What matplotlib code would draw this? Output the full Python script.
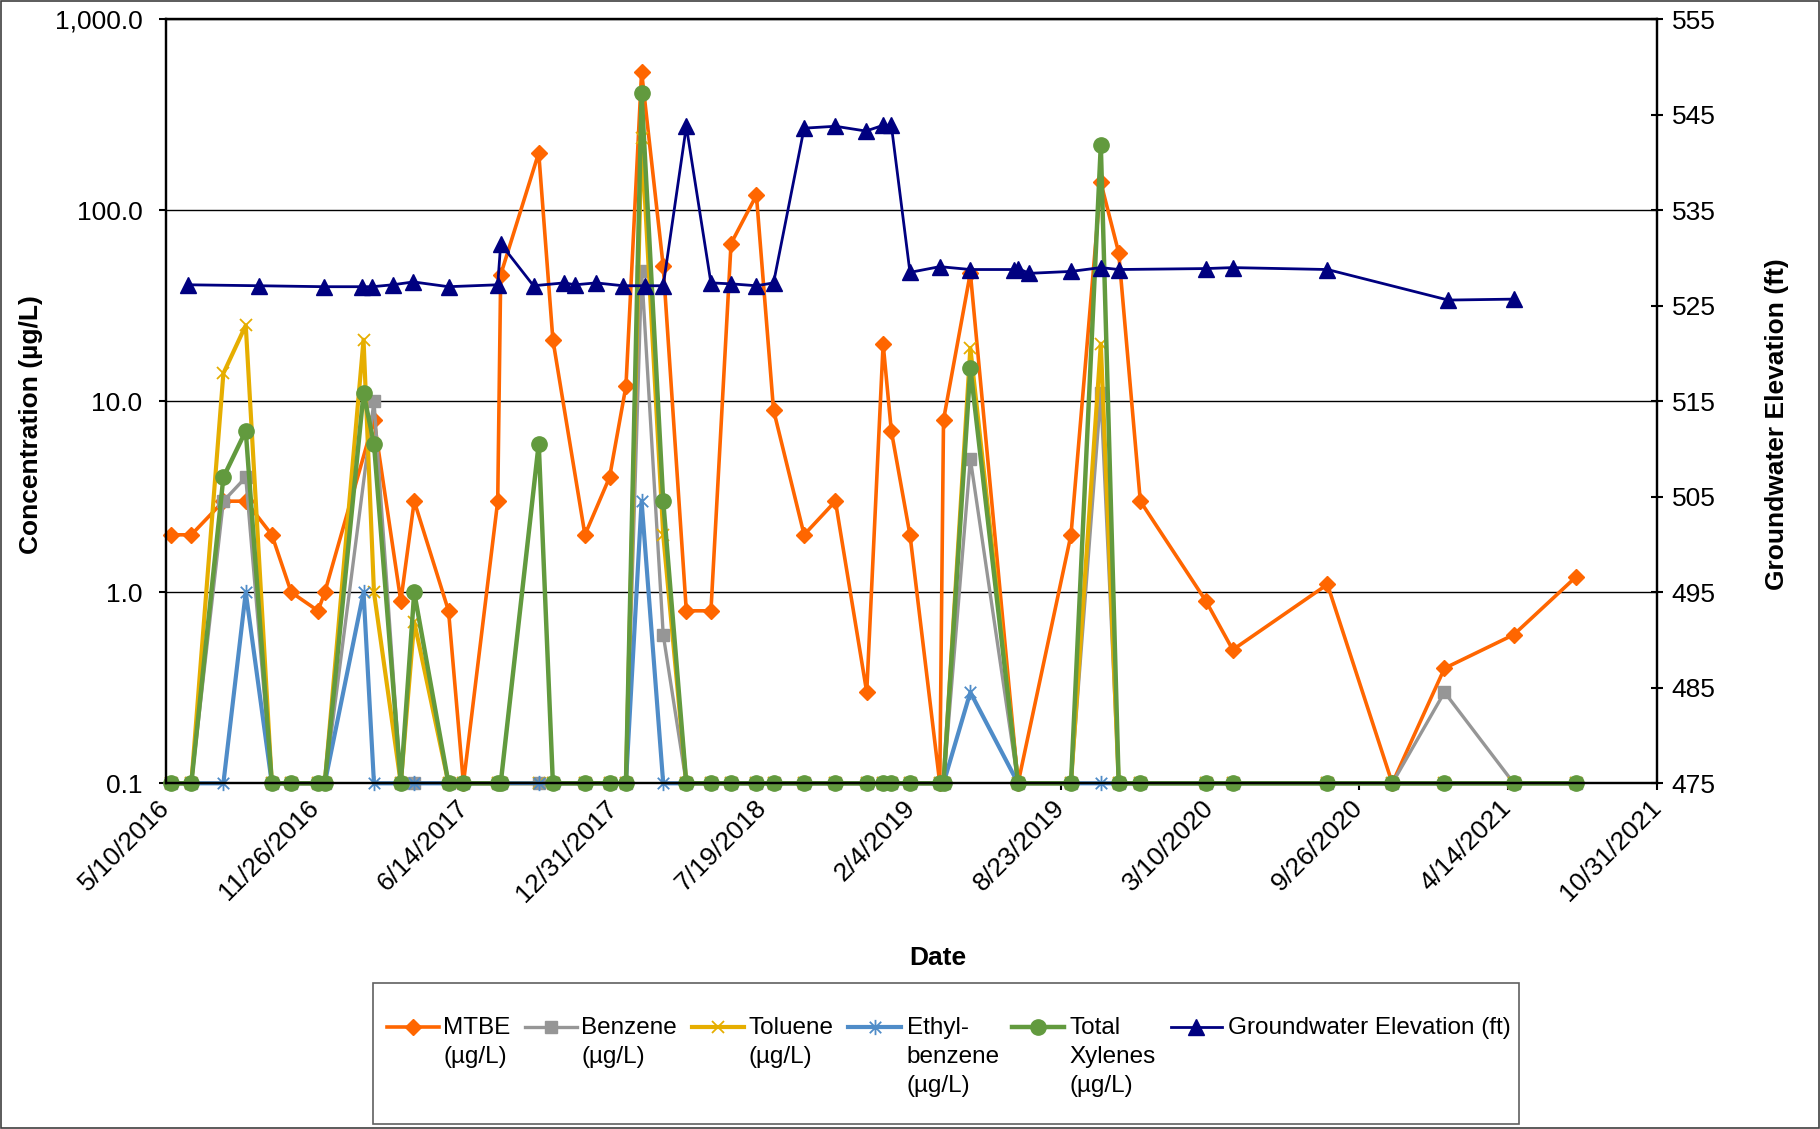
import datetime as dt
import numpy as np
import matplotlib
matplotlib.use("Agg")
import matplotlib.pyplot as plt
import matplotlib.dates as mdates
from matplotlib.lines import Line2D
from matplotlib.patches import Rectangle
from matplotlib.path import Path
from matplotlib.ticker import FixedLocator, FuncFormatter, NullLocator

plt.rcParams['font.family'] = ['Liberation Sans', 'DejaVu Sans']

nan = np.nan  # no result reported for that sampling event

# sampling events (non-detects plotted at 0.1 ug/L)
sample_dates = ['2016-05-17', '2016-06-13', '2016-07-26', '2016-08-25', '2016-09-29',
                '2016-10-25', '2016-11-30', '2016-12-09', '2017-01-30', '2017-02-13',
                '2017-03-21', '2017-04-08', '2017-05-24', '2017-06-13', '2017-07-29',
                '2017-08-02', '2017-09-22', '2017-10-11', '2017-11-23', '2017-12-26',
                '2018-01-17', '2018-02-07', '2018-03-08', '2018-04-08', '2018-05-11',
                '2018-06-07', '2018-07-11', '2018-08-03', '2018-09-13', '2018-10-25',
                '2018-12-06', '2018-12-28', '2019-01-08', '2019-02-02', '2019-03-14',
                '2019-03-19', '2019-04-24', '2019-06-27', '2019-09-06', '2019-10-16',
                '2019-11-09', '2019-12-08', '2020-03-05', '2020-04-10', '2020-08-15',
                '2020-11-10', '2021-01-19', '2021-04-22', '2021-07-14']
mtbe = [2.0, 2.0, 3.0, 3.0, 2.0, 1.0, 0.8, 1.0, nan, 8.0,
        0.9, 3.0, 0.8, 0.1, 3.0, 46, 200, 21, 2.0, 4.0,
        12, 530, 51, 0.8, 0.8, 67, 120, 9.0, 2.0, 3.0,
        0.3, 20, 7.0, 2.0, 0.1, 8.0, 47, 0.1, 2.0, 140,
        60, 3.0, 0.9, 0.5, 1.1, 0.1, 0.4, 0.6, 1.2]
benzene = [0.1, 0.1, 3.0, 4.0, 0.1, 0.1, 0.1, 0.1, nan, 10,
           0.1, 0.1, 0.1, 0.1, 0.1, 0.1, 0.1, 0.1, 0.1, 0.1,
           0.1, 48, 0.6, 0.1, 0.1, 0.1, 0.1, 0.1, 0.1, 0.1,
           0.1, 0.1, 0.1, 0.1, 0.1, 0.1, 5.0, 0.1, 0.1, 11,
           0.1, 0.1, 0.1, 0.1, 0.1, 0.1, 0.3, 0.1, 0.1]
toluene = [0.1, 0.1, 14, 25, 0.1, 0.1, 0.1, 0.1, 21, 1.0,
           0.1, 0.7, 0.1, 0.1, 0.1, 0.1, 0.1, 0.1, 0.1, 0.1,
           0.1, 240, 2.0, 0.1, 0.1, 0.1, 0.1, 0.1, 0.1, 0.1,
           0.1, 0.1, 0.1, 0.1, 0.1, 0.1, 19, 0.1, 0.1, 20,
           0.1, 0.1, 0.1, 0.1, 0.1, 0.1, 0.1, 0.1, 0.1]
ethylbenzene = [0.1, 0.1, 0.1, 1.0, 0.1, 0.1, 0.1, 0.1, 1.0, 0.1,
                0.1, 0.1, 0.1, 0.1, 0.1, 0.1, 0.1, 0.1, 0.1, 0.1,
                0.1, 3.0, 0.1, 0.1, 0.1, 0.1, 0.1, 0.1, 0.1, 0.1,
                0.1, 0.1, 0.1, 0.1, 0.1, 0.1, 0.3, 0.1, 0.1, 0.1,
                0.1, 0.1, 0.1, 0.1, 0.1, 0.1, 0.1, 0.1, 0.1]
xylenes = [0.1, 0.1, 4.0, 7.0, 0.1, 0.1, 0.1, 0.1, 11, 6.0,
           0.1, 1.0, 0.1, 0.1, 0.1, 0.1, 6.0, 0.1, 0.1, 0.1,
           0.1, 410, 3.0, 0.1, 0.1, 0.1, 0.1, 0.1, 0.1, 0.1,
           0.1, 0.1, 0.1, 0.1, 0.1, 0.1, 15, 0.1, 0.1, 220,
           0.1, 0.1, 0.1, 0.1, 0.1, 0.1, 0.1, 0.1, 0.1]

# groundwater gauging
gw_dates = ['2016-06-09', '2016-09-12', '2016-12-08', '2017-01-28', '2017-02-11',
            '2017-03-10', '2017-04-07', '2017-05-24', '2017-07-29', '2017-08-02',
            '2017-09-15', '2017-10-26', '2017-11-10', '2017-12-08', '2018-01-13',
            '2018-02-11', '2018-03-08', '2018-04-08', '2018-05-11', '2018-06-07',
            '2018-07-11', '2018-08-03', '2018-09-13', '2018-10-25', '2018-12-05',
            '2018-12-28', '2019-01-08', '2019-02-02', '2019-03-14', '2019-04-24',
            '2019-06-22', '2019-06-27', '2019-07-12', '2019-09-06', '2019-10-16',
            '2019-11-09', '2020-03-05', '2020-04-10', '2020-08-15', '2021-01-24',
            '2021-04-22']
gw_elev = [527.2, 527.1, 527.0, 527.0, 527.0, 527.2, 527.5, 527.0, 527.2, 531.5,
           527.1, 527.4, 527.2, 527.4, 527.1, 527.1, 527.1, 543.8, 527.4, 527.3,
           527.1, 527.4, 543.6, 543.8, 543.3, 543.9, 543.9, 528.5, 529.1, 528.8,
           528.8, 528.9, 528.4, 528.6, 529.0, 528.8, 528.9, 529.0, 528.8, 525.6,
           525.7]

series_names = ['MTBE\n(µg/L)', 'Benzene\n(µg/L)', 'Toluene\n(µg/L)',
                'Ethyl-\nbenzene\n(µg/L)', 'Total\nXylenes\n(µg/L)']
gw_name = 'Groundwater Elevation (ft)'

# excel style asterisk: an "x" with a vertical bar
star = Path([(0, 1), (0, -1), (-0.75, 0.75), (0.75, -0.75), (-0.75, -0.75), (0.75, 0.75)],
            [Path.MOVETO, Path.LINETO, Path.MOVETO, Path.LINETO, Path.MOVETO, Path.LINETO])

styles = [
    dict(color='#FF6600', marker='D', ms=8, lw=2.6),
    dict(color='#969696', marker='s', ms=9, lw=2.4),
    dict(color='#E6AE00', marker='x', ms=9, mew=1.3, lw=3.0),
    dict(color='#4F8CC8', marker=star, ms=11, mew=1.3, lw=3.0),
    dict(color='#629A3E', marker='o', ms=11, lw=3.2),
]
gw_style = dict(color='#000080', marker='^', ms=11, lw=2.0)

FS = 19

fig = plt.figure(figsize=(18.2, 11.29), dpi=100)
ax = fig.add_axes([0.0912, 0.3062, 0.8192, 0.6767])

x = np.array([np.datetime64(d) for d in sample_dates]).astype('datetime64[D]').astype(object)
for vals, st in zip([mtbe, benzene, toluene, ethylbenzene, xylenes], styles):
    v = np.array(vals, dtype=float)
    ok = ~np.isnan(v)
    ax.plot(x[ok], v[ok], clip_on=False, **st)

ax.set_yscale('log')
ax.set_ylim(0.1, 1000)
ax.yaxis.set_major_locator(FixedLocator([0.1, 1, 10, 100, 1000]))
ax.yaxis.set_minor_locator(NullLocator())
ax.yaxis.set_major_formatter(FuncFormatter(lambda v, p: f'{v:,.1f}'))
ax.yaxis.grid(True, color='black', lw=1.0)
ax.set_axisbelow(True)

start = dt.date(2016, 5, 10)
ticks = [start + dt.timedelta(days=200 * i) for i in range(11)]
ax.set_xlim(ticks[0], ticks[-1])
ax.set_xticks(ticks)
ax.xaxis.set_major_formatter(FuncFormatter(
    lambda v, p: (lambda d: f'{d.month}/{d.day}/{d.year}')(mdates.num2date(v))))
for lab in ax.get_xticklabels():
    lab.set_rotation(45)
    lab.set_ha('right')
    lab.set_va('center')
    lab.set_rotation_mode('anchor')

ax.tick_params(axis='y', direction='out', length=5, width=1.5, labelsize=FS, pad=12)
ax.tick_params(axis='x', direction='out', length=5, width=1.5, labelsize=FS, pad=10)
for s in ax.spines.values():
    s.set_linewidth(1.6)

ax.set_ylabel('Concentration (µg/L)', fontsize=FS, fontweight='bold')
ax.yaxis.set_label_coords(-0.0825, 0.47)
ax.set_xlabel('Date', fontsize=FS, fontweight='bold')
ax.xaxis.set_label_coords(0.518, -0.213)

ax2 = ax.twinx()
gx = np.array([np.datetime64(d) for d in gw_dates]).astype('datetime64[D]').astype(object)
ax2.plot(gx, gw_elev, **gw_style)
ax2.set_ylim(475, 555)
ax2.set_yticks(np.arange(475, 556, 10))
ax2.tick_params(axis='y', direction='inout', length=9, width=1.5, labelsize=FS, pad=6)
ax2.set_ylabel(gw_name, fontsize=FS, fontweight='bold')
ax2.yaxis.set_label_coords(1.0728, 0.47)
for s in ax2.spines.values():
    s.set_linewidth(1.6)

# legend box along the bottom
LFS = 17.5
fig.add_artist(Rectangle((0.2047, 0.0044), 0.6299, 0.1249, transform=fig.transFigure,
                         fill=False, edgecolor='#606060', lw=1.2))
handle_x = [(0.2124, 0.2410), (0.2882, 0.3170), (0.3801, 0.4088),
            (0.4662, 0.4949), (0.5560, 0.5848), (0.6434, 0.6714)]
text_x = [0.2436, 0.3195, 0.4114, 0.4981, 0.5874, 0.6747]
hy, ty = 0.0902, 0.0990
for (x0, x1), tx, name, st in zip(handle_x, text_x, series_names + [gw_name],
                                  styles + [gw_style]):
    fig.add_artist(Line2D([x0, (x0 + x1) / 2, x1], [hy, hy, hy], transform=fig.transFigure,
                          markevery=[1], **st))
    fig.text(tx, ty, name, fontsize=LFS, va='top', ha='left', linespacing=1.4)

# chart area outline
fig.add_artist(Rectangle((0.0008, 0.0008), 0.9984, 0.9984, transform=fig.transFigure,
                         fill=False, edgecolor='#404040', lw=1.2))

fig.savefig('out.png', dpi=100)
